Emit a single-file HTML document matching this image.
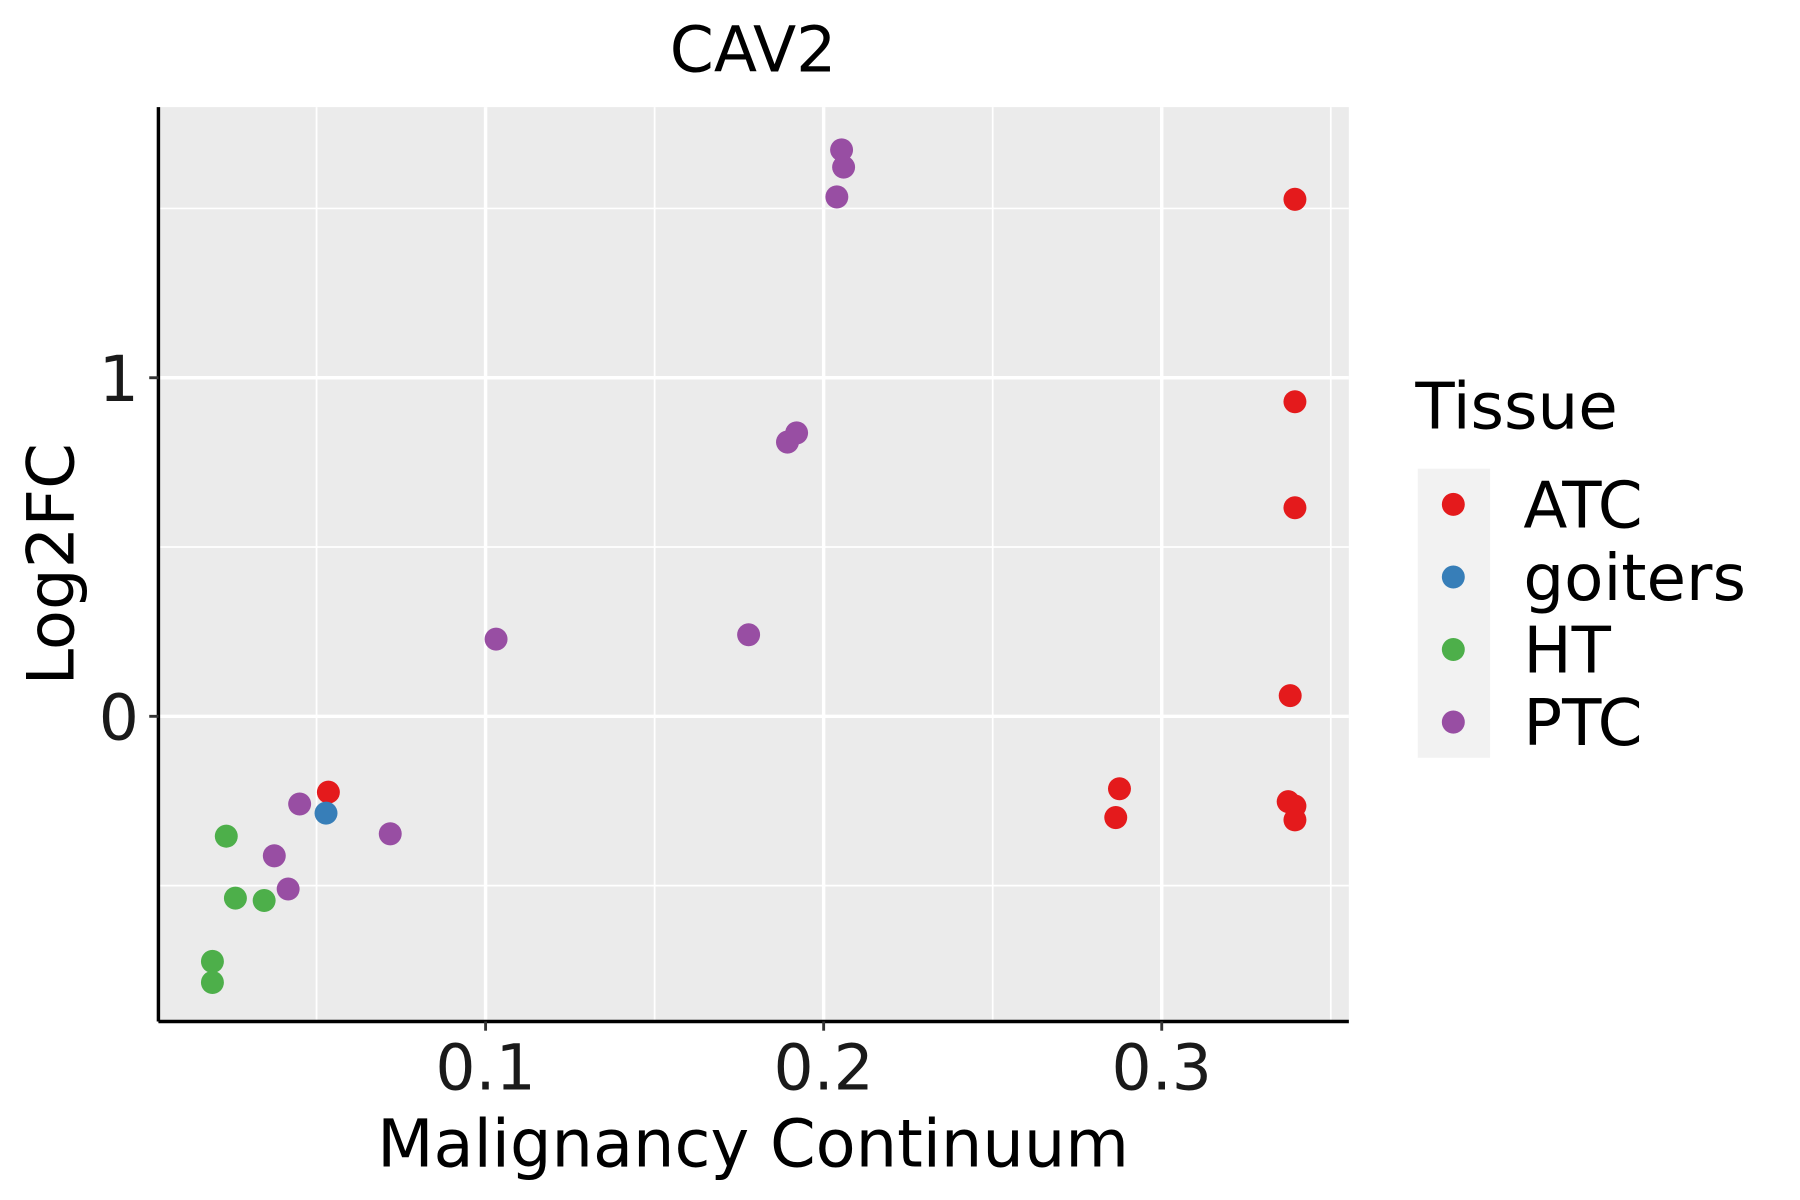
<!DOCTYPE html>
<html><head><meta charset="utf-8"><style>
html,body{margin:0;padding:0;background:#fff}
svg{display:block}
text{font-family:"DejaVu Sans","Liberation Sans",sans-serif}
</style></head><body>
<svg id="chart" width="1800" height="1200" viewBox="0 0 1568 1042" preserveAspectRatio="none">
<rect x="138" y="93" width="1037" height="794" fill="#ebebeb"/>
<g id="grid"></g>
<g id="points"></g>
<line x1="138" y1="887" x2="1175" y2="887" stroke="#000" stroke-width="3"/>
<line x1="138" y1="93" x2="138" y2="887" stroke="#000" stroke-width="3"/>
<g id="ticks"></g>
<text x="656" y="62" font-size="55" text-anchor="middle">CAV2</text>
<text x="656" y="1013" font-size="57" text-anchor="middle">Malignancy Continuum</text>
<text transform="translate(64,490) rotate(-90)" font-size="57" text-anchor="middle">Log2FC</text>
<text x="1233" y="372" font-size="56">Tissue</text>
<rect x="1235" y="407" width="63" height="251" fill="#f2f2f2"/>
<g id="legend"></g>
</svg>
<script>
const NS="http://www.w3.org/2000/svg";
const xTicks=[0.1,0.2,0.3];
const xTickLabels=["0.1","0.2","0.3"];
const xMinor=[0.05,0.15,0.25,0.35];
const yTicks=[0,1];
const yTickLabels=["0","1"];
const yMinor=[-0.5,0.5,1.5];
const groups=["ATC","goiters","HT","PTC"];
const colors=["#e41a1c","#377eb8","#4daf4a","#984ea3"];
const atcX=[0.3394,0.3394,0.3394,0.338,0.2875,0.2864,0.3374,0.3394,0.3394,0.0535];
const atcY=[1.527,0.929,0.616,0.061,-0.214,-0.299,-0.252,-0.265,-0.306,-0.224];
const goitersX=[0.0528];
const goitersY=[-0.286];
const htX=[0.0233,0.026,0.0345,0.0192,0.0192];
const htY=[-0.354,-0.537,-0.544,-0.724,-0.786];
const ptcX=[0.2053,0.2059,0.2039,0.192,0.1893,0.1031,0.1778,0.045,0.0718,0.0375,0.0416];
const ptcY=[1.673,1.622,1.534,0.837,0.810,0.228,0.241,-0.259,-0.347,-0.412,-0.510];
const seriesX=[atcX,goitersX,htX,ptcX];
const seriesY=[atcY,goitersY,htY,ptcY];
function sx(v){return 128.5+v*2945;}
function sy(v){return 622-v*294;}
function mk(tag,attrs,parent){const e=document.createElementNS(NS,tag);for(const k in attrs)e.setAttribute(k,attrs[k]);parent.appendChild(e);return e;}
const grid=document.getElementById('grid');
xMinor.forEach(v=>{const l=mk('line',{x1:sx(v),x2:sx(v),y1:93,y2:887,stroke:'#fff','stroke-width':1.5},grid);

});
yMinor.forEach(v=>{const l=mk('line',{x1:138,x2:1175,y1:sy(v),y2:sy(v),stroke:'#fff','stroke-width':1.5},grid);

});
xTicks.forEach(v=>{const l=mk('line',{x1:sx(v),x2:sx(v),y1:93,y2:887,stroke:'#fff','stroke-width':3},grid);

});
yTicks.forEach(v=>{const l=mk('line',{x1:138,x2:1175,y1:sy(v),y2:sy(v),stroke:'#fff','stroke-width':3},grid);

});
const ticks=document.getElementById('ticks');
xTicks.forEach((v,i)=>{const l=mk('line',{x1:sx(v),x2:sx(v),y1:887,y2:895,stroke:'#333','stroke-width':2.5},ticks);


const t=mk('text',{x:sx(v),y:946,'font-size':55,'text-anchor':'middle',fill:'#1a1a1a'},ticks);t.textContent=xTickLabels[i];

});
yTicks.forEach((v,i)=>{const l=mk('line',{x1:130,x2:138,y1:sy(v),y2:sy(v),stroke:'#333','stroke-width':2.5},ticks);


const t=mk('text',{x:121,y:sy(v)+20,'font-size':55,'text-anchor':'end',fill:'#1a1a1a'},ticks);t.textContent=yTickLabels[i];

});
const pts=document.getElementById('points');
groups.forEach((g,gi)=>{seriesX[gi].forEach((xv,j)=>{const c=mk('circle',{cx:sx(xv),cy:sy(seriesY[gi][j]),r:10,fill:colors[gi]},pts);

});});
const leg=document.getElementById('legend');
groups.forEach((g,i)=>{const y=438+i*63;
const c=mk('circle',{cx:1266,cy:y,r:10,fill:colors[i]},leg);


const t=mk('text',{x:1327,y:y+20,'font-size':56,fill:'#000'},leg);t.textContent=g;

});
</script>
</body></html>
